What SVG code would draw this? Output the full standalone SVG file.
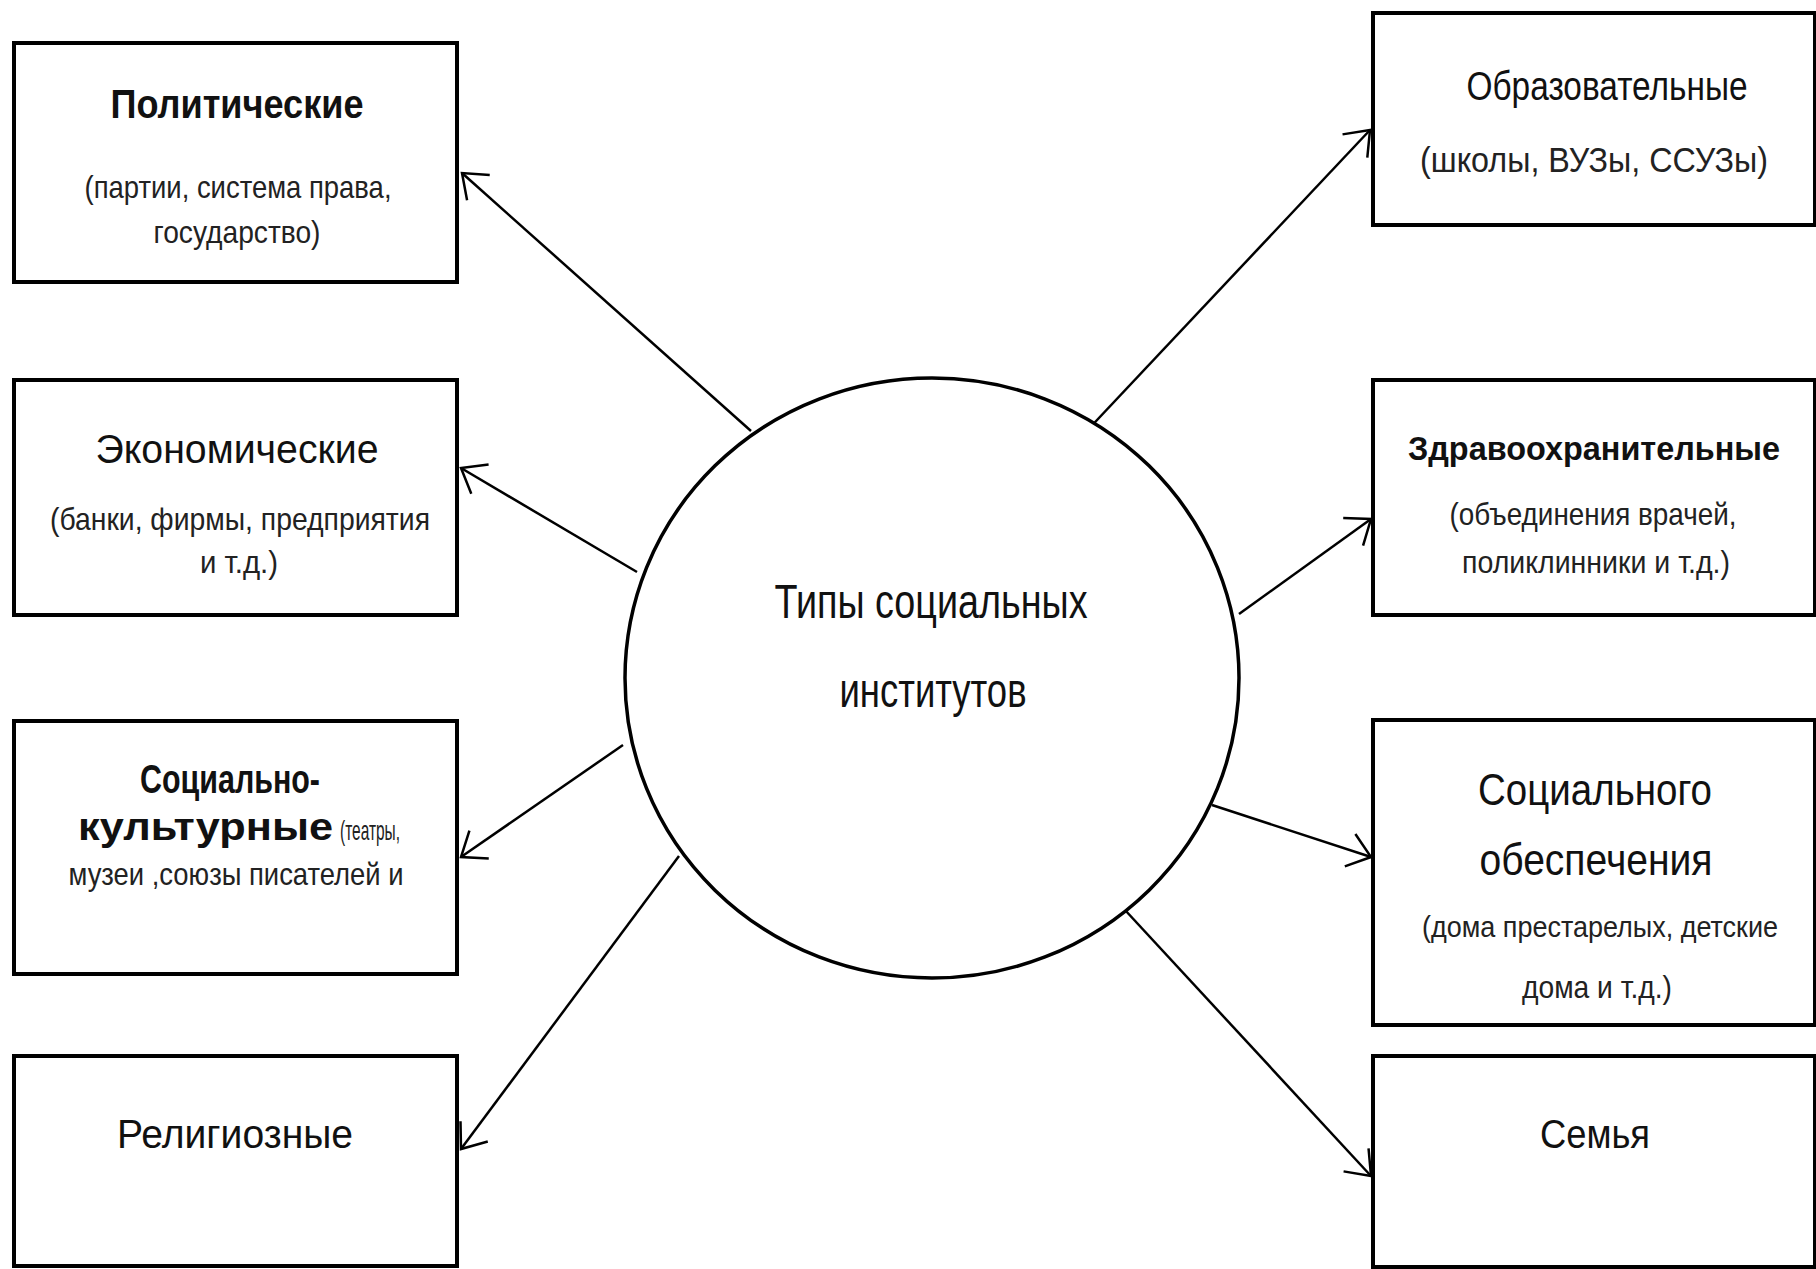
<svg xmlns="http://www.w3.org/2000/svg" width="1816" height="1269" viewBox="0 0 1816 1269">
<defs>
<style>
.box{fill:#fff;stroke:#000;stroke-width:4}
.ell{fill:#fff;stroke:#000;stroke-width:3.5}
.t{font-family:"Liberation Sans","Noto Sans",sans-serif;font-size:40px;fill:#111;text-anchor:middle}
.b{font-weight:bold}
.s{font-family:"Liberation Sans","Noto Sans",sans-serif;font-size:32px;fill:#222;text-anchor:middle}
.c{font-family:"Liberation Sans","Noto Sans",sans-serif;font-size:48px;fill:#111;text-anchor:middle}
.con{stroke:#000;stroke-width:2.5;fill:none;marker-end:url(#arr)}
</style>
<marker id="arr" markerUnits="userSpaceOnUse" markerWidth="40" markerHeight="40" viewBox="-30 -20 34 40" refX="0" refY="0" orient="auto">
<path d="M-22,-17 L0,0 L-22,17" fill="none" stroke="#000" stroke-width="2.5"/>
</marker>
</defs>
<rect width="1816" height="1269" fill="#fff"/>

<g id="connectors">
<line class="con" x1="751" y1="431" x2="462" y2="173"/>
<line class="con" x1="637" y1="572" x2="461" y2="468"/>
<line class="con" x1="623" y1="745" x2="461" y2="857"/>
<line class="con" x1="679" y1="856" x2="461" y2="1149"/>
<line class="con" x1="1082" y1="436" x2="1370" y2="130"/>
<line class="con" x1="1239" y1="614" x2="1371" y2="519"/>
<line class="con" x1="1212" y1="805" x2="1371" y2="857"/>
<line class="con" x1="1125" y1="910" x2="1371" y2="1176"/>
</g>

<g id="center">
<ellipse class="ell" cx="932" cy="678" rx="307" ry="300"/>
<text class="c" x="931" y="618" textLength="313" lengthAdjust="spacingAndGlyphs">Типы социальных</text>
<text class="c" x="933" y="707" textLength="187" lengthAdjust="spacingAndGlyphs">институтов</text>
</g>

<g id="node-political">
<rect class="box" x="14" y="43" width="443" height="239"/>
<text class="t b" x="237" y="118" textLength="253" lengthAdjust="spacingAndGlyphs">Политические</text>
<text class="s" x="238" y="198" textLength="307" lengthAdjust="spacingAndGlyphs">(партии, система права,</text>
<text class="s" x="237" y="243" textLength="167" lengthAdjust="spacingAndGlyphs">государство)</text>
</g>

<g id="node-economic">
<rect class="box" x="14" y="380" width="443" height="235"/>
<text class="t" x="237" y="463" textLength="283" lengthAdjust="spacingAndGlyphs">Экономические</text>
<text class="s" x="240" y="530" textLength="380" lengthAdjust="spacingAndGlyphs">(банки, фирмы, предприятия</text>
<text class="s" x="239" y="573" textLength="78" lengthAdjust="spacingAndGlyphs">и т.д.)</text>
</g>

<g id="node-sociocultural">
<rect class="box" x="14" y="721" width="443" height="253"/>
<text class="t b" x="230" y="793" textLength="180" lengthAdjust="spacingAndGlyphs">Социально-</text>
<text class="t b" x="78" y="840" style="text-anchor:start;font-size:38px" textLength="255" lengthAdjust="spacingAndGlyphs">культурные</text>
<text class="s" x="340" y="840" style="text-anchor:start;font-size:28px" textLength="60" lengthAdjust="spacingAndGlyphs">(театры,</text>
<text class="s" x="236" y="885" textLength="335" lengthAdjust="spacingAndGlyphs">музеи ,союзы писателей и</text>
</g>

<g id="node-religious">
<rect class="box" x="14" y="1056" width="443" height="210"/>
<text class="t" x="235" y="1148" textLength="236" lengthAdjust="spacingAndGlyphs">Религиозные</text>
</g>

<g id="node-educational">
<rect class="box" x="1373" y="13" width="442" height="212"/>
<text class="t" x="1607" y="100" textLength="281" lengthAdjust="spacingAndGlyphs">Образовательные</text>
<text class="s" x="1594" y="172" style="font-size:35px" textLength="348" lengthAdjust="spacingAndGlyphs">(школы, ВУЗы, ССУЗы)</text>
</g>

<g id="node-health">
<rect class="box" x="1373" y="380" width="442" height="235"/>
<text class="t b" x="1594" y="460" style="font-size:33px" textLength="372" lengthAdjust="spacingAndGlyphs">Здравоохранительные</text>
<text class="s" x="1593" y="525" textLength="287" lengthAdjust="spacingAndGlyphs">(объединения врачей,</text>
<text class="s" x="1596" y="573" textLength="268" lengthAdjust="spacingAndGlyphs">поликлинники и т.д.)</text>
</g>

<g id="node-social-security">
<rect class="box" x="1373" y="720" width="442" height="305"/>
<text class="t" x="1595" y="805" style="font-size:44px" textLength="234" lengthAdjust="spacingAndGlyphs">Социального</text>
<text class="t" x="1596" y="875" style="font-size:44px" textLength="233" lengthAdjust="spacingAndGlyphs">обеспечения</text>
<text class="s" x="1600" y="937" style="font-size:29px" textLength="356" lengthAdjust="spacingAndGlyphs">(дома престарелых, детские</text>
<text class="s" x="1597" y="998" textLength="150" lengthAdjust="spacingAndGlyphs">дома и т.д.)</text>
</g>

<g id="node-family">
<rect class="box" x="1373" y="1056" width="442" height="211"/>
<text class="t" x="1595" y="1148" textLength="110" lengthAdjust="spacingAndGlyphs">Семья</text>
</g>
</svg>
